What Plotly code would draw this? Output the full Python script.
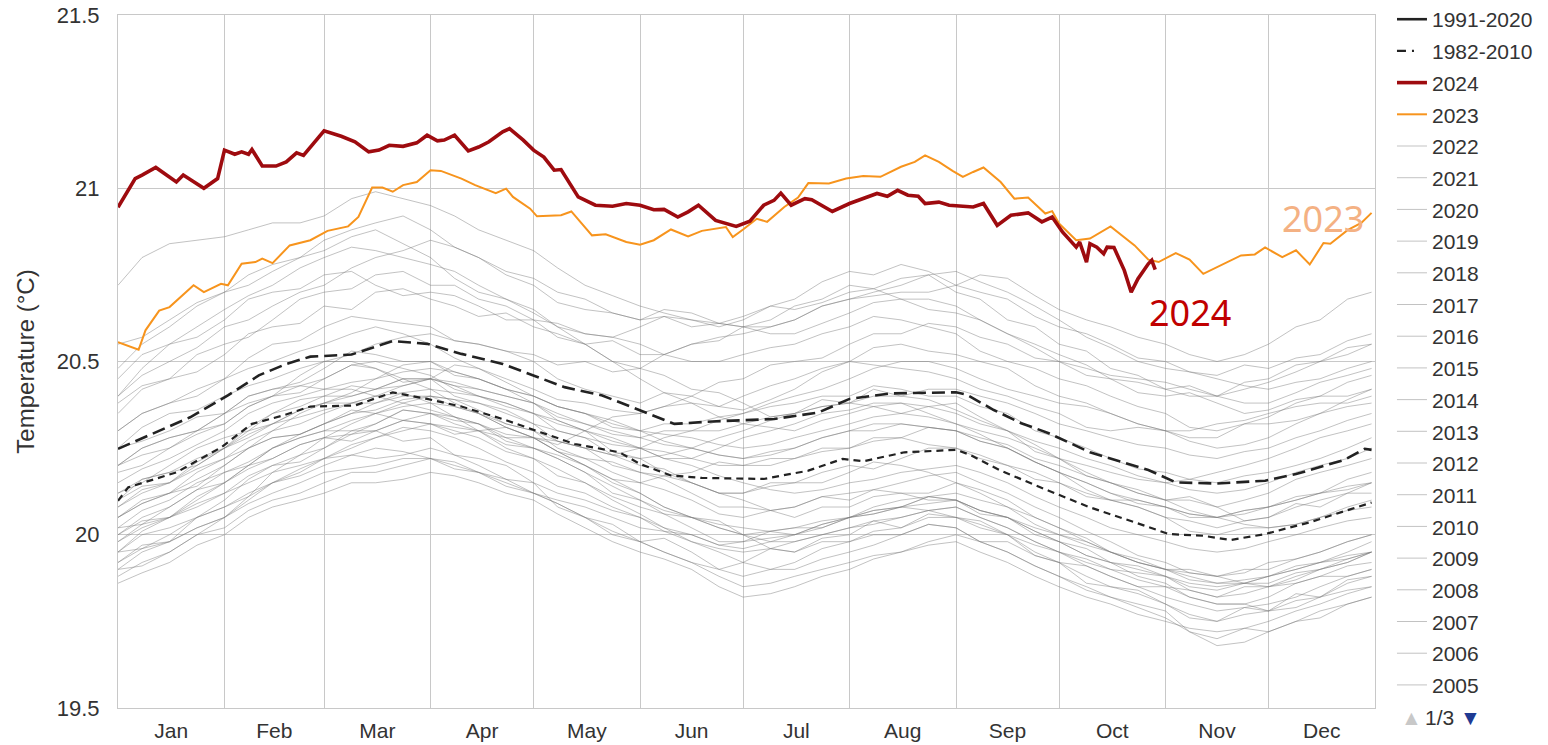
import pandas as pd
import plotly.graph_objects as go

# ---------------- data ----------------
# day-of-year (0 = Jan 1) positions at which the background years were read
knot_days = [0, 7, 15, 23, 31, 38, 45, 53, 60, 68, 75, 83, 91, 98, 105, 113, 121, 128, 136, 144,
             152, 159, 167, 175, 182, 190, 197, 205, 213, 220, 228, 236, 244, 251, 259, 267, 274,
             282, 289, 297, 305, 312, 320, 328, 335, 343, 350, 358, 365]

gray_years = {
    2022: [20.38,20.43,20.45,20.47,20.52,20.58,20.60,20.61,20.66,20.65,20.70,20.71,20.68,20.66,20.63,20.64,20.60,20.58,20.55,20.56,20.52,20.52,20.55,20.56,20.60,20.62,20.66,20.68,20.72,20.71,20.74,20.75,20.70,20.68,20.62,20.60,20.55,20.53,20.48,20.46,20.42,20.43,20.40,20.42,20.44,20.47,20.50,20.52,20.55],
    2021: [20.45,20.52,20.55,20.57,20.62,20.68,20.70,20.71,20.75,20.76,20.72,20.69,20.70,20.69,20.66,20.62,20.62,20.61,20.58,20.57,20.60,20.63,20.62,20.60,20.62,20.66,20.65,20.67,20.70,20.71,20.68,20.65,20.64,20.62,20.58,20.55,20.52,20.49,20.45,20.41,20.40,20.41,20.38,20.35,20.36,20.39,20.40,20.44,20.46],
    2020: [20.55,20.57,20.62,20.67,20.70,20.75,20.78,20.80,20.85,20.88,20.90,20.92,20.88,20.83,20.80,20.75,20.72,20.67,20.65,20.64,20.62,20.63,20.60,20.61,20.63,20.66,20.68,20.73,20.76,20.75,20.78,20.76,20.72,20.70,20.68,20.63,20.60,20.58,20.55,20.51,20.50,20.47,20.46,20.49,20.48,20.51,20.52,20.56,20.58],
    2019: [20.40,20.46,20.50,20.54,20.60,20.62,20.66,20.70,20.72,20.77,20.80,20.82,20.85,20.83,20.80,20.76,20.74,20.70,20.68,20.64,20.62,20.65,20.64,20.61,20.60,20.60,20.62,20.66,20.68,20.70,20.72,20.75,20.76,20.73,20.70,20.66,20.62,20.57,20.54,20.50,20.48,20.47,20.45,20.43,20.42,20.44,20.45,20.48,20.50],
    2018: [20.30,20.35,20.38,20.40,20.45,20.51,20.55,20.56,20.60,20.63,20.62,20.61,20.60,20.56,20.55,20.53,20.50,20.45,20.42,20.40,20.38,20.41,20.40,20.37,20.36,20.39,20.42,20.47,20.50,20.54,20.55,20.53,20.52,20.50,20.48,20.43,20.40,20.38,20.35,20.32,20.30,20.28,20.28,20.32,20.34,20.38,20.40,20.40,20.42],
    2017: [20.48,20.55,20.60,20.66,20.70,20.72,20.76,20.80,20.82,20.86,20.88,20.84,20.80,20.74,20.70,20.68,20.64,20.60,20.58,20.57,20.55,20.52,20.50,20.50,20.52,20.54,20.55,20.58,20.60,20.63,20.62,20.60,20.58,20.53,20.50,20.48,20.45,20.43,20.40,20.37,20.35,20.31,20.30,20.32,20.32,20.33,20.35,20.37,20.38],
    2016: [20.72,20.80,20.84,20.85,20.86,20.88,20.90,20.90,20.92,20.97,20.99,20.97,20.95,20.92,20.88,20.85,20.82,20.77,20.72,20.69,20.66,20.64,20.62,20.61,20.60,20.58,20.58,20.61,20.64,20.67,20.68,20.68,20.66,20.62,20.58,20.54,20.50,20.48,20.46,20.45,20.44,20.42,20.40,20.38,20.38,20.41,20.44,20.46,20.48],
    2015: [20.20,20.23,20.25,20.29,20.32,20.37,20.40,20.46,20.50,20.52,20.55,20.57,20.58,20.56,20.55,20.53,20.52,20.49,20.50,20.47,20.48,20.52,20.55,20.57,20.58,20.60,20.62,20.66,20.68,20.69,20.70,20.70,20.72,20.75,20.74,20.69,20.65,20.62,20.60,20.57,20.55,20.52,20.50,20.52,20.55,20.60,20.62,20.68,20.70],
    2014: [20.10,20.14,20.15,20.20,20.25,20.31,20.35,20.37,20.40,20.43,20.42,20.43,20.45,20.49,20.48,20.45,20.42,20.39,20.38,20.36,20.35,20.37,20.38,20.37,20.40,20.43,20.45,20.48,20.50,20.49,20.48,20.47,20.45,20.42,20.40,20.37,20.35,20.31,20.30,20.31,20.30,20.27,20.25,20.26,20.28,20.32,20.35,20.39,20.42],
    2013: [20.20,20.25,20.28,20.30,20.35,20.40,20.42,20.43,20.45,20.49,20.50,20.48,20.46,20.42,20.40,20.38,20.35,20.33,20.30,20.28,20.25,20.24,20.22,20.20,20.20,20.22,20.22,20.24,20.25,20.27,20.28,20.31,20.30,20.28,20.26,20.22,20.20,20.17,20.15,20.12,20.10,20.10,20.08,20.10,20.12,20.16,20.18,20.20,20.22],
    2012: [20.05,20.09,20.12,20.18,20.22,20.25,20.30,20.35,20.38,20.41,20.45,20.49,20.50,20.47,20.45,20.42,20.40,20.37,20.35,20.31,20.30,20.32,20.32,20.34,20.35,20.37,20.38,20.40,20.40,20.43,20.42,20.40,20.40,20.37,20.35,20.30,20.28,20.25,20.22,20.19,20.18,20.16,20.15,20.17,20.18,20.20,20.22,20.25,20.28],
    2011: [19.95,20.01,20.05,20.11,20.15,20.19,20.22,20.26,20.28,20.32,20.35,20.38,20.40,20.39,20.36,20.32,20.30,20.25,20.22,20.18,20.15,20.13,20.10,20.06,20.05,20.07,20.08,20.11,20.12,20.13,20.15,20.17,20.18,20.15,20.12,20.08,20.05,20.01,19.98,19.94,19.92,19.89,19.88,19.90,19.90,19.93,19.95,19.98,20.00],
    2010: [20.40,20.48,20.55,20.60,20.65,20.69,20.72,20.77,20.80,20.83,20.82,20.80,20.78,20.76,20.72,20.68,20.65,20.60,20.55,20.50,20.45,20.41,20.38,20.34,20.32,20.31,20.30,20.33,20.35,20.37,20.38,20.35,20.32,20.29,20.25,20.21,20.18,20.13,20.10,20.08,20.05,20.01,20.00,20.02,20.02,20.03,20.05,20.07,20.08],
    2009: [19.98,20.03,20.05,20.08,20.12,20.17,20.20,20.21,20.25,20.29,20.30,20.33,20.35,20.34,20.32,20.29,20.28,20.27,20.25,20.23,20.25,20.28,20.30,20.33,20.35,20.38,20.40,20.42,20.45,20.48,20.50,20.50,20.48,20.45,20.42,20.40,20.38,20.37,20.35,20.32,20.30,20.30,20.32,20.33,20.35,20.37,20.38,20.38,20.40],
    2008: [19.90,19.95,19.98,20.02,20.05,20.11,20.15,20.18,20.22,20.26,20.28,20.31,20.30,20.28,20.25,20.21,20.18,20.14,20.12,20.08,20.05,20.01,20.00,19.97,19.98,19.99,20.00,20.03,20.05,20.06,20.08,20.11,20.10,20.07,20.05,20.01,19.98,19.94,19.92,19.90,19.88,19.84,19.82,19.83,19.85,19.88,19.90,19.92,19.95],
    2007: [20.25,20.31,20.35,20.36,20.40,20.43,20.45,20.48,20.50,20.50,20.48,20.45,20.42,20.38,20.35,20.31,20.28,20.24,20.20,20.15,20.12,20.08,20.05,20.02,20.00,19.98,19.98,20.00,20.02,20.03,20.05,20.07,20.08,20.05,20.02,19.98,19.95,19.93,19.90,19.87,19.85,19.82,19.80,19.80,19.82,19.86,19.88,19.88,19.90],
    2006: [20.08,20.12,20.15,20.19,20.22,20.27,20.30,20.32,20.35,20.38,20.40,20.43,20.45,20.44,20.42,20.40,20.38,20.35,20.32,20.29,20.28,20.30,20.30,20.30,20.32,20.34,20.35,20.37,20.38,20.40,20.40,20.42,20.42,20.40,20.38,20.35,20.32,20.30,20.28,20.26,20.25,20.23,20.22,20.24,20.25,20.28,20.30,20.33,20.35],
    2005: [20.30,20.35,20.38,20.42,20.45,20.48,20.50,20.53,20.55,20.58,20.60,20.58,20.55,20.51,20.48,20.44,20.40,20.37,20.35,20.33,20.30,20.27,20.25,20.23,20.22,20.23,20.25,20.28,20.30,20.32,20.32,20.31,20.30,20.27,20.25,20.21,20.18,20.15,20.12,20.10,20.08,20.06,20.05,20.06,20.08,20.10,20.12,20.14,20.15],
    2004: [20.05,20.09,20.12,20.16,20.20,20.25,20.28,20.29,20.32,20.35,20.36,20.39,20.40,20.39,20.38,20.35,20.32,20.30,20.28,20.26,20.25,20.22,20.22,20.25,20.28,20.30,20.32,20.35,20.36,20.38,20.38,20.37,20.35,20.32,20.30,20.27,20.25,20.22,20.20,20.17,20.15,20.13,20.12,20.13,20.15,20.18,20.20,20.22,20.25],
    2003: [20.15,20.19,20.22,20.26,20.30,20.35,20.38,20.40,20.42,20.44,20.45,20.47,20.48,20.47,20.45,20.42,20.40,20.37,20.35,20.32,20.30,20.29,20.28,20.26,20.25,20.26,20.28,20.30,20.32,20.34,20.35,20.37,20.38,20.34,20.30,20.26,20.22,20.18,20.15,20.12,20.10,20.07,20.05,20.03,20.02,20.03,20.05,20.08,20.10],
    2002: [20.00,20.05,20.08,20.13,20.18,20.21,20.25,20.28,20.30,20.33,20.35,20.37,20.38,20.37,20.35,20.32,20.30,20.27,20.25,20.23,20.22,20.23,20.25,20.28,20.30,20.33,20.35,20.37,20.38,20.37,20.35,20.34,20.32,20.30,20.28,20.25,20.22,20.20,20.18,20.16,20.15,20.16,20.18,20.20,20.22,20.25,20.28,20.30,20.32],
    2001: [19.98,20.02,20.05,20.10,20.15,20.20,20.25,20.29,20.32,20.35,20.38,20.41,20.42,20.41,20.40,20.37,20.35,20.32,20.30,20.27,20.25,20.22,20.20,20.17,20.15,20.13,20.12,20.13,20.15,20.16,20.18,20.19,20.20,20.18,20.15,20.11,20.08,20.05,20.02,20.00,19.98,19.96,19.95,19.96,19.98,20.00,20.02,20.04,20.05],
    2000: [19.88,19.92,19.95,20.00,20.05,20.10,20.15,20.19,20.22,20.25,20.28,20.30,20.32,20.31,20.30,20.28,20.25,20.22,20.18,20.14,20.10,20.07,20.05,20.03,20.02,20.01,20.00,20.02,20.05,20.08,20.10,20.11,20.12,20.10,20.08,20.05,20.02,19.98,19.95,19.92,19.90,19.88,19.86,19.87,19.88,19.90,19.92,19.94,19.95],
    1999: [19.92,19.97,19.98,20.05,20.08,20.11,20.18,20.23,20.25,20.30,20.30,20.27,20.28,20.23,20.22,20.20,20.15,20.08,20.05,20.03,19.98,19.99,19.95,19.90,19.92,19.96,19.95,19.99,20.00,20.04,20.02,20.06,20.05,20.04,20.00,19.94,19.92,19.86,19.85,19.84,19.80,19.76,19.75,19.79,19.78,19.83,19.82,19.87,19.88],
    1998: [20.35,20.42,20.45,20.52,20.55,20.57,20.62,20.68,20.70,20.71,20.75,20.76,20.72,20.72,20.68,20.66,20.62,20.57,20.55,20.50,20.48,20.46,20.42,20.41,20.38,20.34,20.35,20.39,20.38,20.42,20.40,20.39,20.36,20.33,20.30,20.24,20.22,20.17,20.15,20.13,20.10,20.11,20.08,20.04,20.05,20.09,20.08,20.12,20.12],
    1997: [20.02,20.03,20.08,20.13,20.15,20.20,20.22,20.26,20.28,20.27,20.30,20.33,20.32,20.29,20.30,20.31,20.28,20.26,20.30,20.34,20.35,20.37,20.40,20.44,20.45,20.49,20.50,20.51,20.55,20.58,20.58,20.61,20.60,20.57,20.55,20.51,20.50,20.46,20.45,20.44,20.42,20.40,20.40,20.44,20.45,20.49,20.50,20.54,20.55],
    1996: [20.10,20.16,20.18,20.20,20.25,20.30,20.32,20.36,20.38,20.38,20.40,20.41,20.38,20.34,20.32,20.27,20.25,20.22,20.18,20.12,20.10,20.06,20.05,20.04,20.00,19.96,19.95,19.98,19.98,20.00,20.00,20.03,20.02,19.98,19.98,19.94,19.92,19.91,19.88,19.85,19.85,19.84,19.82,19.85,19.85,19.86,19.88,19.91,19.92],
    1995: [20.18,20.20,20.25,20.30,20.32,20.37,20.40,20.41,20.45,20.49,20.48,20.44,20.45,20.40,20.38,20.36,20.32,20.27,20.25,20.20,20.18,20.16,20.12,20.08,20.08,20.07,20.05,20.08,20.08,20.11,20.12,20.12,20.15,20.13,20.10,20.05,20.02,19.99,19.95,19.93,19.90,19.87,19.86,19.86,19.88,19.91,19.92,19.93,19.95],
    1994: [19.95,20.00,20.02,20.05,20.10,20.16,20.20,20.23,20.28,20.29,20.32,20.36,20.35,20.33,20.32,20.28,20.28,20.24,20.22,20.21,20.18,20.17,20.15,20.12,20.12,20.15,20.15,20.18,20.20,20.19,20.22,20.25,20.25,20.22,20.20,20.18,20.15,20.11,20.10,20.08,20.05,20.04,20.02,20.04,20.05,20.08,20.10,20.12,20.15],
    1993: [20.05,20.10,20.12,20.14,20.20,20.25,20.28,20.29,20.32,20.36,20.35,20.33,20.32,20.30,20.28,20.24,20.22,20.17,20.15,20.11,20.08,20.06,20.02,19.98,19.98,20.01,20.02,20.02,20.05,20.07,20.08,20.11,20.10,20.06,20.05,20.00,19.98,19.94,19.92,19.91,19.88,19.85,19.84,19.86,19.86,19.89,19.90,19.93,19.95],
    1992: [20.20,20.25,20.28,20.30,20.35,20.40,20.42,20.44,20.48,20.53,20.52,20.50,20.50,20.46,20.45,20.42,20.38,20.33,20.30,20.24,20.22,20.18,20.15,20.12,20.10,20.07,20.08,20.11,20.10,20.13,20.12,20.10,20.10,20.07,20.05,20.01,19.98,19.96,19.92,19.88,19.86,19.82,19.80,19.80,19.78,19.79,19.82,19.86,19.88],
    1991: [20.12,20.15,20.20,20.25,20.28,20.30,20.35,20.39,20.40,20.40,20.42,20.45,20.45,20.43,20.40,20.38,20.35,20.30,20.28,20.23,20.20,20.19,20.15,20.12,20.12,20.14,20.15,20.15,20.18,20.21,20.20,20.18,20.15,20.12,20.08,20.03,20.00,19.98,19.95,19.92,19.90,19.90,19.88,19.89,19.92,19.93,19.95,19.98,20.00],
    1990: [20.02,20.07,20.10,20.15,20.18,20.20,20.25,20.28,20.30,20.30,20.32,20.36,20.35,20.32,20.30,20.26,20.25,20.23,20.20,20.16,20.15,20.17,20.18,20.21,20.20,20.20,20.22,20.25,20.25,20.28,20.28,20.26,20.25,20.23,20.20,20.16,20.15,20.12,20.10,20.10,20.08,20.05,20.05,20.07,20.08,20.11,20.12,20.16,20.18],
    1989: [19.90,19.91,19.95,20.00,20.02,20.07,20.10,20.12,20.15,20.18,20.18,20.20,20.22,20.21,20.18,20.14,20.12,20.09,20.05,20.00,19.98,19.95,19.92,19.90,19.88,19.90,19.92,19.96,19.98,20.01,20.02,20.05,20.05,20.03,20.00,19.95,19.92,19.88,19.85,19.83,19.80,19.77,19.75,19.77,19.78,19.81,19.82,19.84,19.85],
    1988: [20.25,20.27,20.30,20.34,20.35,20.38,20.40,20.43,20.42,20.42,20.40,20.38,20.36,20.34,20.30,20.25,20.22,20.19,20.15,20.10,20.06,20.02,19.98,19.95,19.92,19.90,19.90,19.93,19.95,19.97,20.00,20.03,20.02,19.98,19.95,19.91,19.88,19.84,19.82,19.79,19.76,19.72,19.70,19.73,19.72,19.75,19.76,19.80,19.82],
    1987: [20.08,20.13,20.15,20.21,20.25,20.28,20.32,20.36,20.38,20.40,20.42,20.45,20.45,20.43,20.42,20.40,20.38,20.34,20.32,20.30,20.28,20.26,20.25,20.23,20.22,20.24,20.25,20.28,20.30,20.30,20.32,20.31,20.30,20.27,20.25,20.21,20.18,20.15,20.12,20.09,20.08,20.06,20.05,20.07,20.08,20.10,20.12,20.13,20.15],
    1986: [19.95,19.96,20.00,20.05,20.08,20.12,20.15,20.17,20.20,20.23,20.22,20.23,20.25,20.23,20.20,20.16,20.12,20.09,20.05,20.01,19.98,19.95,19.92,19.88,19.85,19.86,19.88,19.90,19.92,19.94,19.95,19.97,19.98,19.95,19.92,19.88,19.85,19.82,19.80,19.77,19.75,19.73,19.72,19.73,19.75,19.78,19.80,19.83,19.85],
    1985: [19.86,19.89,19.92,19.97,20.00,20.05,20.08,20.10,20.12,20.15,20.15,20.16,20.18,20.17,20.15,20.12,20.10,20.06,20.02,19.98,19.95,19.93,19.90,19.85,19.82,19.83,19.85,19.88,19.90,19.93,19.95,19.98,20.00,19.98,19.95,19.91,19.88,19.85,19.82,19.80,19.78,19.72,19.68,19.69,19.72,19.75,19.78,19.80,19.82],
    1984: [20.00,20.04,20.05,20.09,20.12,20.15,20.18,20.20,20.22,20.23,20.25,20.24,20.22,20.19,20.18,20.15,20.12,20.10,20.08,20.05,20.02,20.01,19.98,19.96,19.95,19.96,19.98,20.00,20.02,20.04,20.05,20.07,20.08,20.05,20.02,19.98,19.95,19.91,19.88,19.85,19.82,19.80,19.78,19.79,19.80,19.82,19.85,19.88,19.90],
    1983: [20.12,20.16,20.18,20.22,20.25,20.29,20.32,20.34,20.36,20.38,20.38,20.40,20.40,20.37,20.35,20.31,20.28,20.24,20.20,20.16,20.12,20.08,20.05,20.02,20.00,20.01,20.02,20.04,20.05,20.07,20.08,20.07,20.05,20.02,20.00,19.97,19.95,19.92,19.90,19.89,19.88,19.86,19.85,19.86,19.88,19.90,19.92,19.95,19.98],
    1982: [19.92,19.96,19.98,20.02,20.05,20.09,20.12,20.15,20.18,20.19,20.20,20.22,20.22,20.20,20.18,20.16,20.15,20.12,20.10,20.07,20.05,20.02,20.00,19.97,19.96,19.98,20.00,20.03,20.05,20.06,20.08,20.09,20.10,20.07,20.05,20.02,20.00,19.97,19.95,19.92,19.90,19.89,19.88,19.86,19.85,19.87,19.90,19.92,19.95],
}

clim9120_days = [0, 9, 21, 32, 41, 49, 56, 68, 80, 90, 100, 112, 120, 130, 141, 152, 162, 173, 191,
                 204, 213, 225, 244, 247, 255, 263, 271, 283, 291, 300, 308, 320, 334, 343, 357, 363, 365]
clim9120_vals = [20.248, 20.286, 20.339, 20.402, 20.46, 20.493, 20.514, 20.52, 20.559, 20.551, 20.522,
                 20.493, 20.464, 20.426, 20.402, 20.36, 20.32, 20.327, 20.334, 20.353, 20.392, 20.408,
                 20.411, 20.405, 20.36, 20.322, 20.293, 20.238, 20.214, 20.187, 20.151, 20.148, 20.156,
                 20.175, 20.216, 20.248, 20.245]

clim8210_days = [0, 3, 17, 30, 39, 48, 56, 69, 80, 90, 100, 112, 123, 133, 146, 152, 161, 170, 188,
                 201, 211, 217, 229, 244, 248, 257, 271, 283, 296, 306, 316, 324, 334, 347, 359, 365]
clim8210_vals = [20.098, 20.137, 20.18, 20.252, 20.32, 20.344, 20.37, 20.373, 20.411, 20.392, 20.37,
                 20.334, 20.296, 20.262, 20.238, 20.204, 20.171, 20.164, 20.161, 20.185, 20.219, 20.212,
                 20.238, 20.245, 20.231, 20.185, 20.127, 20.079, 20.036, 20.002, 19.997, 19.985, 20.002,
                 20.036, 20.074, 20.093]

y2023_days = [0, 6, 8, 12, 15, 22, 25, 30, 32, 36, 40, 42, 45, 50, 56, 61, 67, 70, 74, 77, 80, 83, 87,
              91, 94, 100, 104, 110, 113, 115, 120, 122, 129, 132, 138, 142, 148, 152, 156, 161, 166,
              170, 177, 179, 182, 186, 189, 194, 198, 201, 207, 212, 217, 222, 228, 232, 235, 239, 243,
              246, 249, 252, 257, 261, 265, 270, 272, 274, 279, 283, 289, 296, 300, 303, 308, 312, 316,
              320, 327, 331, 334, 339, 343, 347, 351, 353, 358, 362, 365]
y2023_vals = [20.556, 20.534, 20.59, 20.647, 20.657, 20.72, 20.70, 20.724, 20.72, 20.782, 20.787,
              20.797, 20.784, 20.835, 20.85, 20.877, 20.89, 20.917, 21.002, 21.002, 20.99, 21.009,
              21.018, 21.052, 21.05, 21.028, 21.009, 20.986, 20.999, 20.975, 20.941, 20.919, 20.922,
              20.933, 20.864, 20.867, 20.845, 20.837, 20.85, 20.881, 20.861, 20.877, 20.888, 20.859,
              20.881, 20.912, 20.903, 20.946, 20.973, 21.015, 21.014, 21.028, 21.035, 21.033, 21.062,
              21.076, 21.095, 21.076, 21.05, 21.033, 21.047, 21.06, 21.018, 20.97, 20.973, 20.927,
              20.934, 20.898, 20.85, 20.855, 20.89, 20.835, 20.794, 20.787, 20.813, 20.794, 20.753,
              20.773, 20.806, 20.809, 20.829, 20.801, 20.821, 20.78, 20.842, 20.84, 20.879, 20.9, 20.929]

y2024_days = [0, 5, 7, 11, 17, 19, 25, 29, 31, 34, 36, 38, 39, 42, 46, 49, 52, 54, 60, 65, 69, 73, 76,
              79, 83, 87, 90, 93, 95, 98, 102, 105, 108, 112, 114, 118, 121, 124, 127, 129, 134, 139,
              144, 148, 152, 156, 159, 163, 166, 169, 174, 180, 184, 188, 191, 193, 196, 200, 202, 208,
              213, 217, 221, 224, 227, 230, 233, 235, 239, 242, 246, 249, 252, 256, 260, 265, 269, 272,
              275, 279, 280, 282, 283, 285, 287, 288, 290, 293, 295, 297, 300, 301, 302]
y2024_vals = [20.945, 21.028, 21.038, 21.06, 21.018, 21.038, 21.0, 21.028, 21.11, 21.098, 21.105,
              21.098, 21.112, 21.064, 21.064, 21.076, 21.102, 21.095, 21.166, 21.15, 21.134, 21.105,
              21.11, 21.124, 21.121, 21.131, 21.153, 21.137, 21.139, 21.153, 21.108, 21.119, 21.134,
              21.163, 21.172, 21.139, 21.11, 21.09, 21.052, 21.054, 20.975, 20.951, 20.948, 20.956,
              20.951, 20.938, 20.939, 20.917, 20.932, 20.951, 20.907, 20.89, 20.905, 20.951, 20.965,
              20.986, 20.951, 20.97, 20.967, 20.933, 20.956, 20.97, 20.985, 20.977, 20.994, 20.98,
              20.977, 20.956, 20.96, 20.951, 20.948, 20.946, 20.956, 20.893, 20.922, 20.929, 20.903,
              20.917, 20.874, 20.83, 20.845, 20.787, 20.84, 20.83, 20.811, 20.83, 20.829, 20.763,
              20.70, 20.739, 20.782, 20.792, 20.765]

legend_years = list(range(2022, 2004, -1))  # entries shown on legend page 1/3

for _yr, _v in gray_years.items():
    assert len(_v) == len(knot_days), (_yr, len(_v))

# ---------------- figure ----------------
base = pd.Timestamp("2024-01-01")


def to_dates(days):
    return [base + pd.Timedelta(days=d) for d in days]


fig = go.Figure()

gray_col = "rgba(120,120,120,0.45)"
for yr, vals in gray_years.items():
    fig.add_trace(go.Scatter(
        x=to_dates(knot_days), y=vals, mode="lines", name=str(yr),
        line=dict(color=gray_col, width=1),
        showlegend=yr in legend_years, legendgroup=str(yr),
        legendrank=5 + (2022 - yr), hoverinfo="skip"))

fig.add_trace(go.Scatter(
    x=to_dates(clim9120_days), y=clim9120_vals, mode="lines", name="1991-2020",
    line=dict(color="#222222", width=2.6, dash="13px,6px"), showlegend=False))
fig.add_trace(go.Scatter(
    x=to_dates(clim8210_days), y=clim8210_vals, mode="lines", name="1982-2010",
    line=dict(color="#222222", width=2.2, dash="7px,5px"), showlegend=False))
fig.add_trace(go.Scatter(
    x=to_dates(y2023_days), y=y2023_vals, mode="lines", name="2023",
    line=dict(color="#f7941d", width=2),
    legendgroup="y23", legendrank=4))
fig.add_trace(go.Scatter(
    x=to_dates(y2024_days), y=y2024_vals, mode="lines", name="2024",
    line=dict(color="#9e0b0f", width=3.6),
    legendgroup="y24", legendrank=3))

# legend-only keys for the two climatologies (their legend symbols differ from the plotted dashes)
fig.add_trace(go.Scatter(x=[None], y=[None], mode="lines", name="1991-2020",
                         line=dict(color="#222222", width=2.6),
                         legendgroup="c1", legendrank=1))
fig.add_trace(go.Scatter(x=[None], y=[None], mode="lines", name="1982-2010",
                         line=dict(color="#222222", width=2.4, dash="9px,6px,2px,20px"),
                         legendgroup="c2", legendrank=2))

grid = "#c8c8c8"
fig.update_layout(
    width=1548, height=745,
    margin=dict(l=118, r=173, t=15, b=37, autoexpand=False),
    paper_bgcolor="white", plot_bgcolor="white",
    font=dict(family="Liberation Sans, Arial, sans-serif", color="#333333", size=21),
    showlegend=True,
    legend=dict(x=1.0135, xanchor="left", y=1.023, yanchor="top",
                traceorder="grouped", tracegroupgap=1.4, maxheight=740,
                font=dict(size=21, color="#333333"),
                bgcolor="rgba(0,0,0,0)"),
    xaxis=dict(type="date", range=["2024-01-01", "2025-01-01"],
               dtick="M1", tick0="2024-01-01", tickformat="%b",
               ticklabelmode="period", showgrid=True, gridcolor=grid, gridwidth=1,
               showline=True, linecolor=grid, mirror=True, zeroline=False,
               ticks="outside", ticklen=4, tickcolor="rgba(0,0,0,0)", automargin=False,
               tickfont=dict(size=21, color="#333333")),
    yaxis=dict(range=[19.5, 21.5], tickvals=[19.5, 20, 20.5, 21, 21.5],
               ticktext=["19.5", "20", "20.5", "21", "21.5"],
               showgrid=True, gridcolor=grid, gridwidth=1,
               showline=True, linecolor=grid, mirror=True, zeroline=False,
               ticks="outside", ticklen=13, tickcolor="rgba(0,0,0,0)", automargin=False,
               tickfont=dict(size=22, color="#333333"),
               title=dict(text="Temperature (°C)", font=dict(size=24, color="#333333"))),
)

fig.add_annotation(x="2024-11-08", y=20.64, xref="x", yref="y", text="2024",
                   showarrow=False, font=dict(family="Noto Sans, Open Sans, sans-serif",
                                              size=36, color="#c00000"))
fig.add_annotation(x="2024-12-17", y=20.913, xref="x", yref="y", text="2023",
                   showarrow=False, font=dict(family="Noto Sans, Open Sans, sans-serif",
                                              size=36, color="#f4b183"))
# legend pager "▲ 1/3 ▼"
fig.add_annotation(x=1.0294, y=-0.0144, xref="paper", yref="paper", text="▲",
                   xanchor="center", yanchor="middle",
                   showarrow=False, font=dict(size=21, color="#c8c8c8"))
fig.add_annotation(x=1.0517, y=-0.0144, xref="paper", yref="paper", text="1/3",
                   xanchor="center", yanchor="middle",
                   showarrow=False, font=dict(size=21, color="#333333"))
fig.add_annotation(x=1.0756, y=-0.0144, xref="paper", yref="paper", text="▼",
                   xanchor="center", yanchor="middle",
                   showarrow=False, font=dict(size=21, color="#1f3a93"))

fig.write_html("out.html", config={"displayModeBar": False},
               post_script="document.body.style.margin='0';")
